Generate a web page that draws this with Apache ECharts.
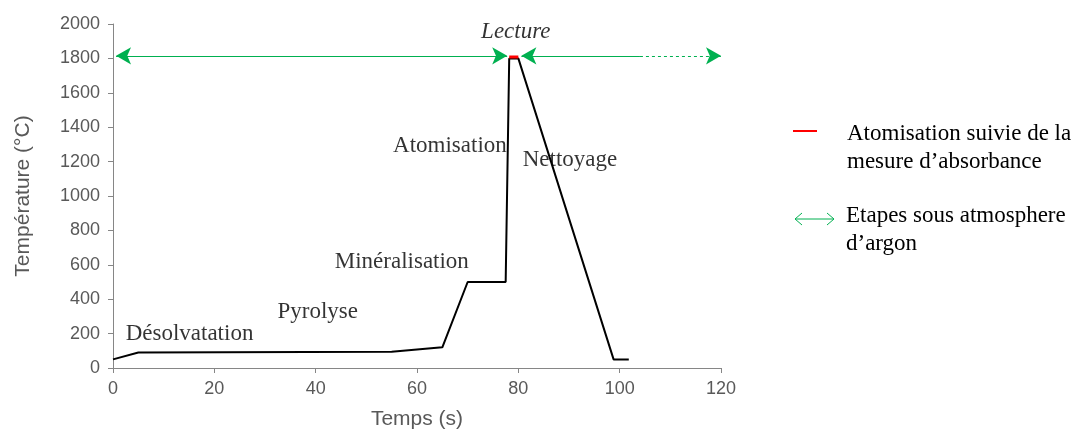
<!DOCTYPE html>
<html><head><meta charset="utf-8">
<script src="https://cdn.jsdelivr.net/npm/echarts@6/dist/echarts.min.js"></script>
<style>html,body{margin:0;padding:0;background:#fff;overflow:hidden}#c{width:1074px;height:430px}</style>
</head><body><div id="c"></div>
<script>
// Data
const timeS = [0, 5, 55, 65, 70, 77.5, 78.2, 80, 98.8, 101.8];
const tempC = [50, 90, 95, 120, 500, 500, 1800, 1800, 50, 50];
const lectureX = [78.2, 80];
const lectureY = [1808, 1808];
const argonY = 1815;
const argonArrow1 = [0.6, 77.8];
const argonArrow2Solid = [80.6, 104];
const argonArrow2Dashed = [104, 120];
const xTicks = [0, 20, 40, 60, 80, 100, 120];
const yTicks = [0, 200, 400, 600, 800, 1000, 1200, 1400, 1600, 1800, 2000];
const stageLabels = [
  {name: 'Désolvatation', x: 15.1, y: 200},
  {name: 'Pyrolyse', x: 40.4, y: 326},
  {name: 'Minéralisation', x: 57, y: 616},
  {name: 'Atomisation', x: 66.5, y: 1290},
  {name: 'Nettoyage', x: 90.2, y: 1209}
];
const lectureLabel = {name: 'Lecture', x: 79.5, y: 1956};

const chart = echarts.init(document.getElementById('c'), null, {renderer: 'canvas'});
const serif = '"Liberation Serif", "Times New Roman", serif';
const sans = '"Liberation Sans", Arial, sans-serif';
const green = '#00B050';

const option = {
  animation: false,
  grid: {left: 113, right: 353, top: 24, bottom: 62, containLabel: false, outerBoundsMode: 'none'},
  xAxis: {
    type: 'value', min: xTicks[0], max: xTicks[xTicks.length - 1], interval: 20,
    name: 'Temps (s)', nameLocation: 'middle', nameGap: 41,
    nameTextStyle: {fontFamily: sans, fontSize: 21, color: '#595959'},
    axisLine: {show: true, lineStyle: {color: '#868686', width: 1}},
    axisTick: {show: true, inside: false, length: 5, lineStyle: {color: '#868686'}},
    axisLabel: {fontFamily: sans, fontSize: 18, color: '#595959', margin: 12},
    splitLine: {show: false}
  },
  yAxis: {
    type: 'value', min: yTicks[0], max: yTicks[yTicks.length - 1], interval: 200,
    name: 'Température (°C)', nameLocation: 'middle', nameGap: 79, nameRotate: 90,
    nameTextStyle: {fontFamily: sans, fontSize: 21, color: '#595959'},
    axisLine: {show: true, lineStyle: {color: '#868686', width: 1}},
    axisTick: {show: true, inside: false, length: 5, lineStyle: {color: '#868686'}},
    axisLabel: {fontFamily: sans, fontSize: 18, color: '#595959', margin: 13, formatter: v => String(v)},
    splitLine: {show: false}
  },
  series: [
    {
      type: 'line', name: 'Température',
      data: timeS.map((t, i) => [t, tempC[i]]),
      symbol: 'none', lineStyle: {color: '#000', width: 2}, z: 3,
      markLine: {
        silent: true, animation: false,
        label: {show: false},
        symbolSize: [13, 15],
        data: [
          [{coord: [argonArrow1[0], argonY], symbol: 'arrow', lineStyle: {color: green, width: 1, type: 'solid'}},
           {coord: [argonArrow1[1], argonY], symbol: 'arrow'}],
          [{coord: [argonArrow2Solid[0], argonY], symbol: 'arrow', lineStyle: {color: green, width: 1, type: 'solid'}},
           {coord: [argonArrow2Solid[1], argonY], symbol: 'none'}],
          [{coord: [argonArrow2Dashed[0], argonY], symbol: 'none', lineStyle: {color: green, width: 1, type: [3, 3]}},
           {coord: [argonArrow2Dashed[1], argonY], symbol: 'arrow'}]
        ],
        itemStyle: {color: green}
      }
    },
    {
      type: 'line', name: 'Lecture',
      data: lectureX.map((t, i) => [t, lectureY[i]]),
      symbol: 'none', lineStyle: {color: '#FF0000', width: 3}, z: 4
    },
    {
      type: 'scatter', name: 'labels',
      data: stageLabels.map(d => ({value: [d.x, d.y], name: d.name})).concat([
        {value: [lectureLabel.x, lectureLabel.y], name: lectureLabel.name, label: {fontStyle: 'italic'}}
      ]),
      symbolSize: 0, silent: true, z: 5,
      label: {show: true, position: 'inside', formatter: p => p.name,
        fontFamily: serif, fontSize: 23, color: '#000'}
    }
  ],
  graphic: [
    {type: 'line', shape: {x1: 793, y1: 131, x2: 817, y2: 131}, style: {stroke: '#FF0000', lineWidth: 2}},
    {type: 'text', left: 847, top: 120, style: {text: 'Atomisation suivie de la\nmesure d’absorbance', font: '23px ' + serif, fill: '#000', lineHeight: 28}},
    {type: 'line', shape: {x1: 795, y1: 219, x2: 834, y2: 219}, style: {stroke: green, lineWidth: 1}},
    {type: 'polyline', shape: {points: [[802, 213], [795, 219], [802, 225]]}, style: {stroke: green, lineWidth: 1, fill: null}},
    {type: 'polyline', shape: {points: [[827, 213], [834, 219], [827, 225]]}, style: {stroke: green, lineWidth: 1, fill: null}},
    {type: 'text', left: 846, top: 202, style: {text: 'Etapes sous atmosphere\nd’argon', font: '23px ' + serif, fill: '#000', lineHeight: 28}}
  ]
};
chart.setOption(option);
</script>
</body></html>
